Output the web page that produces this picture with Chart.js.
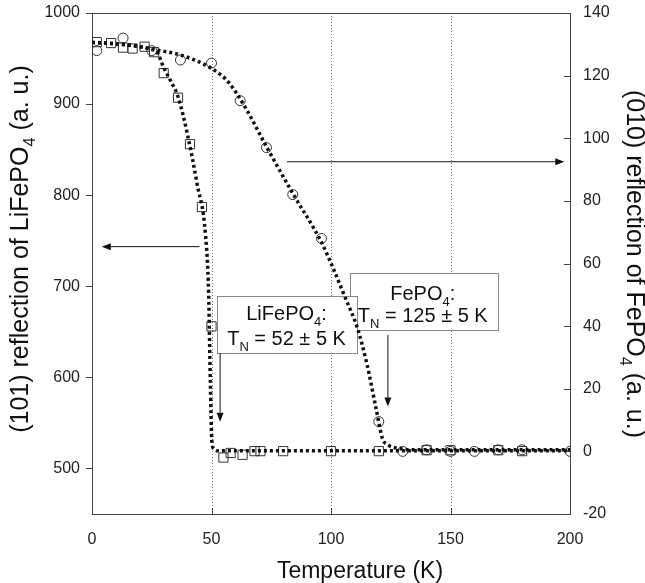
<!DOCTYPE html>
<html><head><meta charset="utf-8">
<script src="https://cdn.jsdelivr.net/npm/chart.js@4/dist/chart.umd.min.js"></script>
<style>html,body{margin:0;padding:0;background:#fff}</style>
</head><body>
<canvas id="c" width="645" height="583"></canvas>
<script>
// ---- data ----
const liT   = [2, 8, 13, 17, 22, 26, 30, 36, 41, 46, 50, 55, 58, 63, 68, 70.5, 80, 100, 120, 140, 150, 170, 180];
const liVal = [968, 967, 962, 961, 963, 957, 934, 907, 856, 787, 656, 512, 517, 515, 519, 519, 519, 519, 519, 520, 520, 520, 519];
const feT   = [2, 13, 25, 37, 50, 62, 73, 84, 96, 120, 130, 140, 150, 160, 170, 180, 200];
const feVal = [128, 132, 128, 125, 124, 112, 97, 82, 68, 9.5, 0, 0.5, 0, 0, 0.5, 0.5, 0];
const fitLiT = [0, 10, 20, 25, 27, 30, 33, 36, 40, 44, 47.5, 48.8, 49.5, 50.2, 51.2, 52.5, 55, 200];
const fitLiV = [968, 966, 963, 960, 958, 940, 925, 908, 866, 812, 756, 692, 597, 528, 521, 519.5, 519.5, 519.5];
const fitFeT = [0, 10, 20, 27, 37, 50, 57, 64, 73, 84, 96, 101, 106, 111, 115, 118.7, 121.5, 124, 128, 135, 200];
const fitFeV = [130.5, 130.2, 129.3, 128.2, 126.6, 122.3, 118, 110, 97.3, 82.4, 66.8, 58.3, 49, 39.5, 28, 14.3, 4.2, 2, 1, 0.5, 0.5];
const xTicks = [0, 50, 100, 150, 200];
const leftTicks = [500, 600, 700, 800, 900, 1000];
const rightTicks = [-20, 0, 20, 40, 60, 80, 100, 120, 140];
const xGrid = [50, 100, 150];

const FONT = '"Liberation Sans", Arial, Helvetica, sans-serif';

// annotations in data units
const boxes = [
  {axis:'y1', x0:107.8, x1:170, y0:57.1, y1:38.75,
   lines:[{segs:[['FePO',0],['4',1],[':',0]], x:138.4, y:48.3},
          {segs:[['T',0],['N',1],[' = 125 \u00B1 5 K',0]], x:138.4, y:41.3}]},
  {axis:'y', x0:52.4, x1:110.7, y0:689.4, y1:626.8,
   lines:[{segs:[['LiFePO',0],['4',1],[':',0]], x:81.4, y:663},
          {segs:[['T',0],['N',1],[' = 52 \u00B1 5 K',0]], x:81.4, y:635.6}]}
];
const arrows = [
  {axis:'y',  x0:45,   y0:743.5, x1:4.1,   y1:743.5},
  {axis:'y1', x0:81.6, y0:92.5,  x1:197.6, y1:92.5},
  {axis:'y',  x0:53.6, y0:626.8, x1:53.6,  y1:551.4},
  {axis:'y1', x0:123.8,y0:37.2,  x1:123.8, y1:14.3}
];

function pts(xs, ys){ return xs.map((x,i)=>({x:x, y:ys[i]})); }

function richWidth(ctx, segs, size){
  let w = 0;
  for (const [t,s] of segs){ ctx.font = (s?size*0.65:size)+'px '+FONT; w += ctx.measureText(t).width; }
  return w;
}
function drawRich(ctx, segs, size, x, y){
  const w = richWidth(ctx, segs, size); let cx = x - w/2;
  ctx.textAlign = 'left'; ctx.textBaseline = 'alphabetic';
  for (const [t,s] of segs){
    const fs = s ? size*0.65 : size;
    ctx.font = fs+'px '+FONT;
    ctx.fillText(t, cx, y + (s ? size*0.28 : 0));
    cx += ctx.measureText(t).width;
  }
}

const deco = {
  id:'deco',
  beforeDatasetsDraw(chart){
    const ctx = chart.ctx, a = chart.chartArea, sx = chart.scales.x;
    ctx.save();
    ctx.strokeStyle = '#777'; ctx.lineWidth = 1; ctx.setLineDash([1,2]);
    for (const v of xGrid){
      const px = Math.round(sx.getPixelForValue(v))+0.5;
      ctx.beginPath(); ctx.moveTo(px, a.top); ctx.lineTo(px, a.bottom); ctx.stroke();
    }
    ctx.setLineDash([]);
    ctx.strokeStyle = '#444';
    ctx.strokeRect(Math.round(a.left)+0.5, Math.round(a.top)+0.5, Math.round(a.right-a.left), Math.round(a.bottom-a.top));
    ctx.beginPath();
    const yl = chart.scales.y, yr = chart.scales.y1;
    for (const v of leftTicks){ const py = Math.round(yl.getPixelForValue(v))+0.5; ctx.moveTo(a.left-6, py); ctx.lineTo(a.left, py); }
    for (const v of rightTicks){ const py = Math.round(yr.getPixelForValue(v))+0.5; ctx.moveTo(a.right-6, py); ctx.lineTo(a.right, py); }
    for (const v of xTicks){ const px = Math.round(sx.getPixelForValue(v))+0.5; ctx.moveTo(px, a.bottom); ctx.lineTo(px, a.bottom-6); }
    ctx.stroke();
    for (const b of boxes){
      const sy = chart.scales[b.axis];
      const x0 = Math.round(sx.getPixelForValue(b.x0))+0.5, x1 = Math.round(sx.getPixelForValue(b.x1))+0.5;
      const y0 = Math.round(sy.getPixelForValue(b.y0))+0.5, y1 = Math.round(sy.getPixelForValue(b.y1))+0.5;
      ctx.fillStyle = '#fff'; ctx.fillRect(x0, y0, x1-x0, y1-y0);
      ctx.strokeStyle = '#888'; ctx.strokeRect(x0, y0, x1-x0, y1-y0);
      ctx.fillStyle = '#111';
      for (const l of b.lines){ drawRich(ctx, l.segs, 20, sx.getPixelForValue(l.x), sy.getPixelForValue(l.y)); }
    }
    ctx.restore();
  },
  afterDatasetsDraw(chart){
    const ctx = chart.ctx, sx = chart.scales.x;
    ctx.save();
    ctx.strokeStyle = '#111'; ctx.fillStyle = '#111'; ctx.lineWidth = 1;
    for (const ar of arrows){
      const sy = chart.scales[ar.axis];
      const x0 = sx.getPixelForValue(ar.x0), y0 = sy.getPixelForValue(ar.y0);
      const x1 = sx.getPixelForValue(ar.x1), y1 = sy.getPixelForValue(ar.y1);
      const ang = Math.atan2(y1-y0, x1-x0), L = 9, W = 3.5;
      const bx = x1 - L*Math.cos(ang), by = y1 - L*Math.sin(ang);
      ctx.beginPath(); ctx.moveTo(x0, y0); ctx.lineTo(bx, by); ctx.stroke();
      ctx.beginPath(); ctx.moveTo(x1, y1);
      ctx.lineTo(bx + W*Math.sin(ang), by - W*Math.cos(ang));
      ctx.lineTo(bx - W*Math.sin(ang), by + W*Math.cos(ang));
      ctx.closePath(); ctx.fill();
    }
    ctx.restore();
  },
  afterDraw(chart){
    const ctx = chart.ctx;
    ctx.save(); ctx.fillStyle = '#111';
    ctx.save(); ctx.translate(28, 249); ctx.rotate(-Math.PI/2);
    drawRich(ctx, [['(101) reflection of LiFePO',0],['4',1],[' (a. u.)',0]], 25, 0, 0);
    ctx.restore();
    ctx.save(); ctx.translate(627, 264); ctx.rotate(Math.PI/2);
    drawRich(ctx, [['(010) reflection of FePO',0],['4',1],[' (a. u.)',0]], 25, 0, 0);
    ctx.restore();
    drawRich(ctx, [['Temperature (K)',0]], 23, 360, 578);
    ctx.restore();
  }
};

const tickFont = {family: FONT, size: 16};
function noPad(s){ s.paddingTop = 0; s.paddingBottom = 0; s.paddingLeft = 0; s.paddingRight = 0; }
new Chart(document.getElementById('c'), {
  type: 'scatter',
  data: { datasets: [
    { label:'LiFePO4 fit', data: pts(fitLiT, fitLiV), yAxisID:'y', showLine:true, pointRadius:0,
      borderColor:'#111', borderWidth:3.5, borderDash:[3,3], borderCapStyle:'butt', cubicInterpolationMode:'monotone', fill:false },
    { label:'FePO4 fit', data: pts(fitFeT, fitFeV), yAxisID:'y1', showLine:true, pointRadius:0,
      borderColor:'#111', borderWidth:3.5, borderDash:[3,3], borderCapStyle:'butt', cubicInterpolationMode:'monotone', fill:false },
    { label:'LiFePO4 (101)', data: pts(liT, liVal), yAxisID:'y', pointStyle:'rect', pointRadius:6.5,
      pointBorderColor:'#333', pointBackgroundColor:'rgba(0,0,0,0)', pointBorderWidth:1 },
    { label:'FePO4 (010)', data: pts(feT, feVal), yAxisID:'y1', pointStyle:'circle', pointRadius:5,
      pointBorderColor:'#333', pointBackgroundColor:'rgba(0,0,0,0)', pointBorderWidth:1 }
  ]},
  options: {
    responsive:false, animation:false, devicePixelRatio:1,
    layout:{padding:{top:13, left:0, right:0, bottom:0}},
    plugins:{legend:{display:false}, tooltip:{enabled:false}},
    scales:{
      x:{type:'linear', position:'bottom', min:0, max:200,
         afterBuildTicks:s=>{s.ticks = xTicks.map(v=>({value:v}));},
         ticks:{font:tickFont, color:'#222', padding:16, maxRotation:0, autoSkip:false, callback:v=>String(v)},
         grid:{display:false, drawTicks:false}, border:{display:false},
         afterFit:s=>{s.height = 69; noPad(s);}},
      y:{type:'linear', position:'left', min:450, max:1000,
         afterBuildTicks:s=>{s.ticks = leftTicks.map(v=>({value:v}));},
         ticks:{font:tickFont, color:'#222', padding:12, autoSkip:false, callback:v=>String(v)},
         grid:{display:false, drawTicks:false}, border:{display:false},
         afterFit:s=>{s.width = 92; noPad(s);}},
      y1:{type:'linear', position:'right', min:-20, max:140,
         afterBuildTicks:s=>{s.ticks = rightTicks.map(v=>({value:v}));},
         ticks:{font:tickFont, color:'#222', padding:13, autoSkip:false, callback:v=>String(v)},
         grid:{display:false, drawTicks:false}, border:{display:false},
         afterFit:s=>{s.width = 75; noPad(s);}}
    }
  },
  plugins:[deco]
});
</script>
</body></html>
